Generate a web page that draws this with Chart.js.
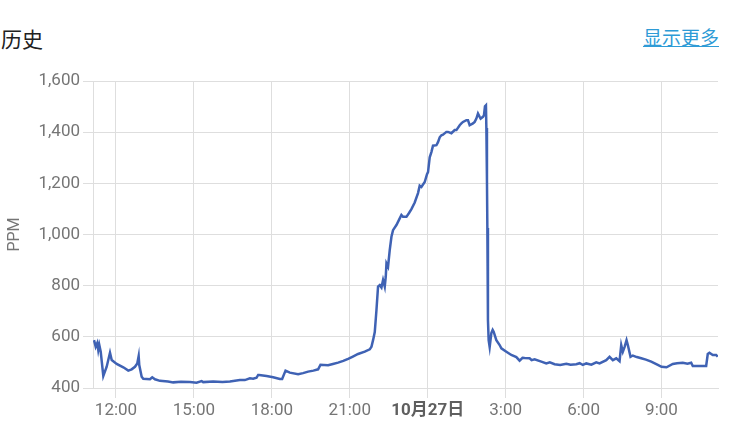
<!DOCTYPE html>
<html>
<head>
<meta charset="utf-8">
<script src="https://cdn.jsdelivr.net/npm/chart.js@4/dist/chart.umd.min.js"></script>
<style>
  html, body { margin: 0; padding: 0; background: #fff; }
  body { width: 743px; height: 441px; position: relative; overflow: hidden; font-family: Roboto, "Noto Sans CJK SC", sans-serif; }
  #title { position: absolute; left: 1px; top: 23px; font-size: 21px; color: #212121; font-family: "Noto Sans CJK SC", sans-serif; line-height: 30px; }
  #more { position: absolute; right: 24px; top: 23px; font-size: 19px; color: #2e9bd6; text-decoration: underline; font-family: "Noto Sans CJK SC", sans-serif; line-height: 28px; }
  #wrap { position: absolute; left: 0; top: 0; width: 743px; height: 441px; }
</style>
</head>
<body>
<div id="title">历史</div>
<div id="more">显示更多</div>
<div id="wrap"><canvas id="c" width="743" height="441"></canvas></div>
<script>
// time in hours since 0:00 of 10月26日 (24 = 10月27日 0:00)
const hours = [
  11.154, 11.219, 11.281, 11.319, 11.358, 11.412, 11.512, 11.642, 11.769, 11.835,
  12.027, 12.281, 12.473, 12.604, 12.731, 12.819, 12.873, 12.896, 12.988, 13.05,
  13.308, 13.396, 13.5, 13.692, 14.0, 14.204, 14.5, 14.846, 15.1, 15.296, 15.358, 15.742, 16.1, 16.385,
  16.769, 16.96, 17.154, 17.28, 17.41, 17.473, 17.512, 17.796, 18.05, 18.308,
  18.396, 18.527, 18.692, 19.012, 19.2, 19.396, 19.6, 19.781, 19.873, 20.165, 20.35, 20.55, 20.75, 20.935,
  21.1, 21.319, 21.577, 21.769, 21.835, 21.896, 21.962, 22.027, 22.088, 22.154, 22.219,
  22.281, 22.346, 22.385, 22.412, 22.473, 22.538, 22.604, 22.665, 22.796, 22.923,
  22.988, 23.05, 23.181, 23.281, 23.373, 23.5, 23.627, 23.692, 23.758, 23.885,
  23.973, 24.012, 24.077, 24.142, 24.204, 24.335, 24.396, 24.462, 24.527, 24.588,
  24.719, 24.781, 24.912, 25.038, 25.104, 25.231, 25.296, 25.358, 25.488, 25.55,
  25.615, 25.742, 25.808, 25.873, 25.935, 26.0, 26.038, 26.127, 26.165, 26.204,
  26.242, 26.258, 26.281, 26.296, 26.319, 26.346, 26.385, 26.45, 26.5, 26.538,
  26.642, 26.769, 26.835, 27.027, 27.219, 27.412, 27.538, 27.65, 27.731, 27.923, 28.0, 28.115,
  28.373, 28.565, 28.7, 28.885, 29.1, 29.335, 29.5, 29.719, 29.85, 29.973, 30.104, 30.3, 30.488, 30.615, 30.873,
  31.0, 31.127, 31.258, 31.385, 31.45, 31.512, 31.577, 31.654, 31.704, 31.808,
  31.896, 32.05, 32.219, 32.4, 32.604, 32.858, 33.0, 33.192, 33.435, 33.6, 33.819, 34.0, 34.142, 34.204,
  34.719, 34.781, 34.846, 34.973, 35.104, 35.165
];
const ppm = [
  587, 561, 576, 548, 568, 542, 447, 483, 538, 509,
  494, 481, 468, 473, 483, 496, 525, 490, 444, 436,
  434, 442, 434, 428, 425, 422, 424, 423, 421, 427, 423, 425, 423, 425,
  431, 431, 438, 436, 440, 451, 451, 447, 442, 435,
  435, 468, 460, 454, 458, 464, 468, 473, 491, 489, 494, 499, 506, 514,
  522, 533, 542, 551, 561, 587, 619, 705, 796, 802, 793,
  822, 796, 835, 887, 874, 939, 991, 1017, 1037, 1063,
  1076, 1069, 1069, 1084, 1099, 1125, 1162, 1191, 1186, 1205,
  1236, 1244, 1302, 1322, 1347, 1349, 1361, 1380, 1388, 1390,
  1401, 1401, 1396, 1408, 1408, 1427, 1434, 1440, 1447, 1447,
  1427, 1434, 1440, 1453, 1473, 1460, 1453, 1460, 1466, 1501,
  1505, 1416, 1212, 1025, 666, 587, 560, 615, 627, 620,
  587, 568, 555, 542, 529, 521, 507, 518, 517, 516, 509, 512,
  503, 496, 500, 493, 490, 495, 491, 493, 497, 490, 496, 491, 500, 496, 509,
  522, 509, 516, 505, 568, 542, 560, 587, 568, 522,
  527, 521, 516, 511, 503, 490, 483, 481, 494, 497, 499, 495, 499, 486,
  486, 533, 538, 529, 529, 522
];
const xTickHours = [12, 15, 18, 21, 24, 27, 30, 33];
const dayLabel = '10月27日';
const yTicks = [400, 600, 800, 1000, 1200, 1400, 1600];

const points = hours.map((h, i) => ({ x: h, y: ppm[i] }));
const GRID = '#dedede';
const LABEL = '#757575';
const FONT = 'Roboto, "Noto Sans CJK SC", sans-serif';

new Chart(document.getElementById('c'), {
  type: 'line',
  data: {
    datasets: [{
      data: points,
      borderColor: '#3f62b4',
      borderWidth: 2.5,
      pointRadius: 0,
      pointHoverRadius: 0,
      tension: 0,
      fill: false
    }]
  },
  options: {
    responsive: false,
    animation: false,
    events: [],
    layout: { padding: { top: 81, right: 25, left: 0, bottom: 0 } },
    plugins: { legend: { display: false }, tooltip: { enabled: false } },
    scales: {
      x: {
        type: 'linear',
        min: 11.115,
        max: 35.175,
        afterBuildTicks: (s) => { s.ticks = xTickHours.map(v => ({ value: v })); },
        afterFit: (s) => { s.height = 53; },
        grid: { color: GRID, tickLength: 10, drawTicks: true },
        border: { display: true, color: GRID },
        ticks: {
          padding: 3,
          maxRotation: 0,
          autoSkip: false,
          color: (ctx) => (ctx.tick && ctx.tick.value === 24) ? '#5f5f5f' : LABEL,
          font: (ctx) => (ctx.tick && ctx.tick.value === 24)
            ? { family: FONT, size: 17, weight: 'bold' }
            : { family: FONT, size: 17 },
          callback: (v) => v === 24 ? dayLabel : (v % 24) + ':00'
        }
      },
      y: {
        min: 400,
        max: 1600,
        afterBuildTicks: (s) => { s.ticks = yTicks.map(v => ({ value: v })); },
        afterFit: (s) => { s.width = 93; },
        grid: { color: GRID, tickLength: 10 },
        border: { display: true, color: GRID },
        ticks: {
          padding: 3,
          color: LABEL,
          font: { family: FONT, size: 17 },
          callback: (v) => v.toLocaleString('en-US')
        },
        title: {
          display: true,
          text: 'PPM',
          color: LABEL,
          font: { family: FONT, size: 16 },
          padding: { top: 5, bottom: 0 }
        }
      }
    }
  }
});
</script>
</body>
</html>
